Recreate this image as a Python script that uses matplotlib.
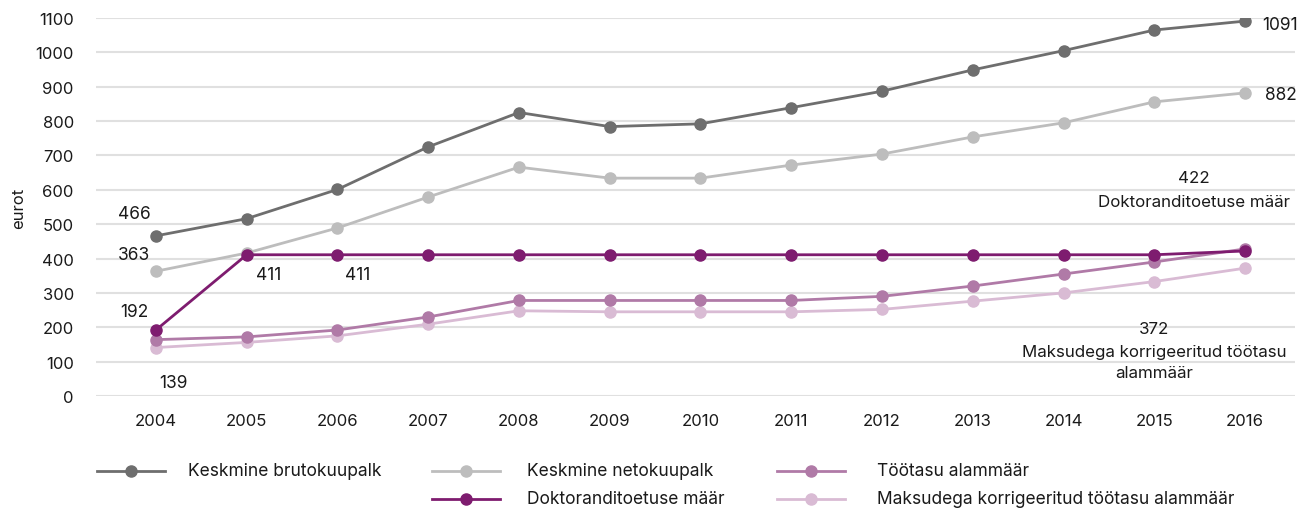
import matplotlib
matplotlib.use("Agg")
import matplotlib.pyplot as plt
from matplotlib.lines import Line2D

plt.rcParams['font.family'] = ['Inter', 'DejaVu Sans']

years = [2004, 2005, 2006, 2007, 2008, 2009, 2010, 2011, 2012, 2013, 2014, 2015, 2016]
bruto = [466, 516, 601, 725, 825, 784, 792, 839, 887, 949, 1005, 1065, 1091]
neto = [363, 416, 489, 579, 666, 634, 634, 672, 704, 754, 795, 856, 882]
doktor = [192, 411, 411, 411, 411, 411, 411, 411, 411, 411, 411, 411, 422]
alammaar = [164, 172, 192, 230, 278, 278, 278, 278, 290, 320, 355, 390, 428]
korrig = [141, 156, 175, 209, 248, 245, 245, 245, 252, 276, 300, 333, 372]

series_names = ["Keskmine brutokuupalk", "Keskmine netokuupalk", "Töötasu alammäär",
                "Doktoranditoetuse määr", "Maksudega korrigeeritud töötasu alammäär"]
colors = {"bruto": "#6e6e6e", "neto": "#bdbdbd", "doktor": "#7e1c6f",
          "alam": "#b07aa7", "korrig": "#d9bbd4"}
yticks = list(range(0, 1101, 100))

fig = plt.figure(figsize=(12.98, 5.10), dpi=100)
ax = fig.add_axes([96/1298, 113/510, 1199/1298, 378/510])

lw = 2.0
ms = 8.0
ax.plot(years, korrig, color=colors["korrig"], lw=lw, marker='o', ms=ms, zorder=3)
ax.plot(years, alammaar, color=colors["alam"], lw=lw, marker='o', ms=ms, zorder=4)
ax.plot(years, neto, color=colors["neto"], lw=lw, marker='o', ms=ms, zorder=3)
ax.plot(years, bruto, color=colors["bruto"], lw=lw, marker='o', ms=ms, zorder=3)
ax.plot(years, doktor, color=colors["doktor"], lw=lw, marker='o', ms=ms, zorder=5)

ax.set_xlim(2003.34, 2016.55)
ax.set_ylim(0, 1100)
ax.set_yticks(yticks)
ax.set_xticks(years)
ax.set_xticklabels([str(y) for y in years])
ax.grid(axis='y', color='#e0e0e0', lw=1.5)
ax.set_axisbelow(True)
for s in ax.spines.values():
    s.set_visible(False)
ax.tick_params(axis='both', length=0, labelsize=12, colors='#1a1a1a')
ax.tick_params(axis='y', pad=16)
ax.tick_params(axis='x', pad=12)
ax.set_ylabel("eurot", fontsize=12, color='#1a1a1a', labelpad=7)

fs = 12.5
tc = '#1a1a1a'
def lab(x, y, s, ha='center', size=fs):
    ax.annotate(s, xy=(x, y), xycoords='data', ha=ha, va='center', fontsize=size, color=tc,
                annotation_clip=False)

lab(2003.76, 530, "466")
lab(2003.76, 412, "363")
lab(2003.76, 247, "192")
lab(2004.19, 40, "139")
lab(2005.24, 354, "411")
lab(2006.22, 354, "411")
lab(2016.19, 1080, "1091", ha='left')
lab(2016.22, 876, "882", ha='left')
lab(2015.44, 635, "422", size=12.2)
lab(2015.44, 566, "Doktoranditoetuse määr", size=12.2)
lab(2015.0, 197, "372", size=12.2)
lab(2015.0, 130, "Maksudega korrigeeritud töötasu", size=12.2)
lab(2015.0, 68, "alammäär", size=12.2)

# Legend
W, H = 1298, 510
leg = [
    (97, 472, colors["bruto"], series_names[0], 188),
    (432, 472, colors["neto"], series_names[1], 527),
    (777, 472, colors["alam"], series_names[2], 877),
    (432, 500, colors["doktor"], series_names[3], 527),
    (777, 500, colors["korrig"], series_names[4], 877),
]
for x0, y0, c, name, tx in leg:
    fy = 1 - y0 / H
    fig.add_artist(Line2D([x0 / W, (x0 + 68) / W], [fy, fy], color=c, lw=lw,
                          transform=fig.transFigure))
    fig.add_artist(Line2D([(x0 + 34) / W], [fy], color=c, marker='o', ms=ms,
                          lw=0, transform=fig.transFigure))
    fig.text(tx / W, fy, name, ha='left', va='center', fontsize=12.5, color=tc)

fig.savefig("out.png", dpi=100, facecolor='white')
